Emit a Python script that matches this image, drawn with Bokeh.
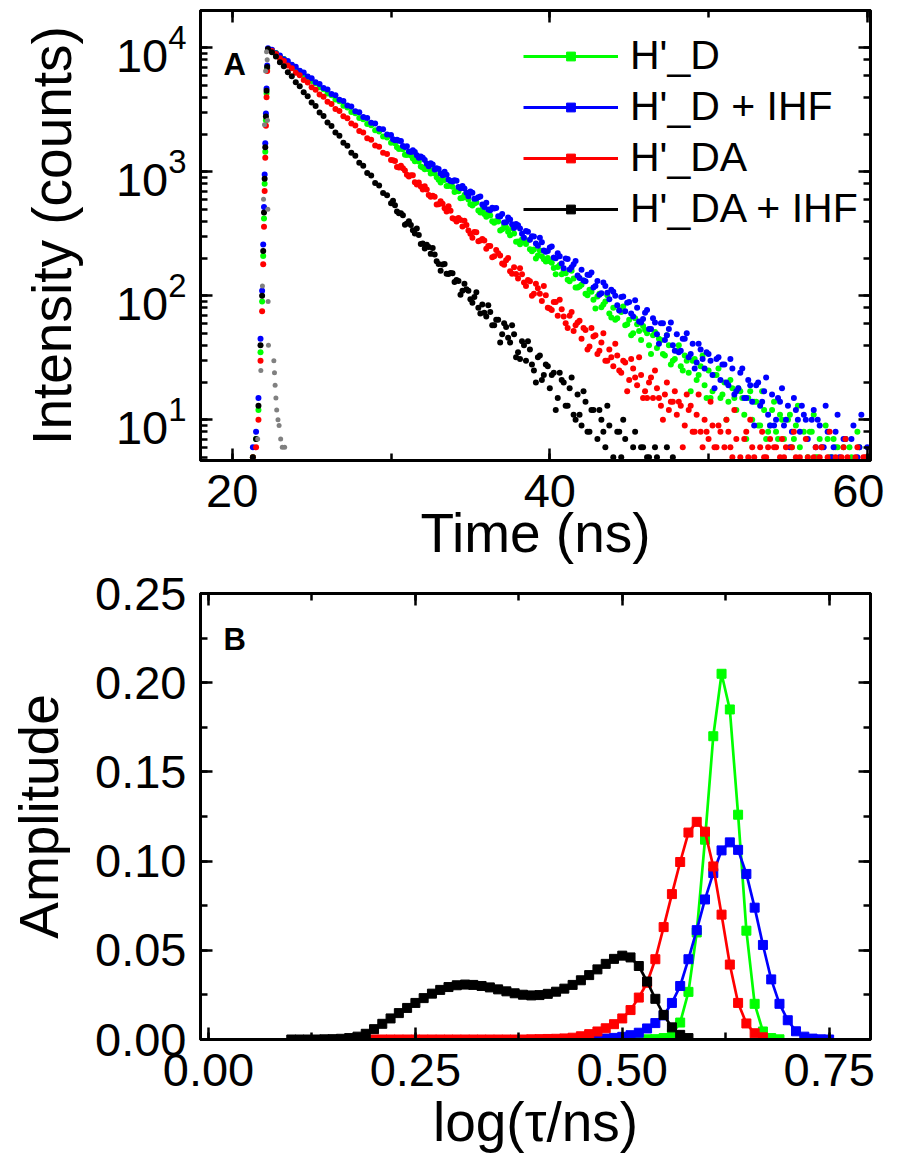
from bokeh.plotting import figure
from bokeh.models import (Range1d, LinearAxis, LogAxis, SingleIntervalTicker, LogTicker,
                          NumeralTickFormatter, CustomJSTickFormatter, Legend, LegendItem, Label)
from bokeh.layouts import column
from bokeh.embed import file_html
from bokeh.resources import INLINE

FONT = "Liberation Sans"

# ---------------- Panel A data (TCSPC decays) ----------------
series_names = ["H'_D", "H'_D + IHF", "H'_DA", "H'_DA + IHF"]
series_colors = ["#00ff00", "#0000ff", "#ff0000", "#000000"]

rise_time = [21.3, 21.5, 21.65, 21.78, 21.88, 21.95, 22.0, 22.04, 22.08, 22.12, 22.16, 22.2, 22.25]
rise_green = [5, 7, 12, 35, 90, 210, 420, 800, 1450, 2600, 4300, 6800, 9700]
rise_blue = [6, 8, 15, 45, 110, 260, 520, 950, 1700, 2950, 4700, 7200, 9900]
rise_red = [5, 6, 10, 30, 75, 180, 360, 700, 1300, 2350, 4000, 6500, 9600]
rise_black = [5, 7, 13, 40, 100, 230, 470, 880, 1580, 2800, 4500, 7000, 9800]

decay_time = [
    22.5, 22.75, 23.0, 23.25, 23.5, 23.75, 24.0, 24.25,
    24.5, 24.75, 25.0, 25.25, 25.5, 25.75, 26.0, 26.25,
    26.5, 26.75, 27.0, 27.25, 27.5, 27.75, 28.0, 28.25,
    28.5, 28.75, 29.0, 29.25, 29.5, 29.75, 30.0, 30.25,
    30.5, 30.75, 31.0, 31.25, 31.5, 31.75, 32.0, 32.25,
    32.5, 32.75, 33.0, 33.25, 33.5, 33.75, 34.0, 34.25,
    34.5, 34.75, 35.0, 35.25, 35.5, 35.75, 36.0, 36.25,
    36.5, 36.75, 37.0, 37.25, 37.5, 37.75, 38.0, 38.25,
    38.5, 38.75, 39.0, 39.25, 39.5, 39.75, 40.0, 40.25,
    40.5, 40.75, 41.0, 41.25, 41.5, 41.75, 42.0, 42.25,
    42.5, 42.75, 43.0, 43.25, 43.5, 43.75, 44.0, 44.25,
    44.5, 44.75, 45.0, 45.25, 45.5, 45.75, 46.0, 46.25,
    46.5, 46.75, 47.0, 47.25, 47.5, 47.75, 48.0, 48.25,
    48.5, 48.75, 49.0, 49.25, 49.5, 49.75, 50.0, 50.25,
    50.5, 50.75, 51.0, 51.25, 51.5, 51.75, 52.0, 52.25,
    52.5, 52.75, 53.0, 53.25, 53.5, 53.75, 54.0, 54.25,
    54.5, 54.75, 55.0, 55.25, 55.5, 55.75, 56.0, 56.25,
    56.5, 56.75, 57.0, 57.25, 57.5, 57.75, 58.0, 58.25,
    58.5, 58.75, 59.0, 59.25, 59.5, 59.75, 60.0]

decay_green = [
    9512, 9071, 8466, 8120, 7581, 7262, 6749, 6481,
    6032, 5803, 5391, 5170, 4812, 4633, 4290, 4139,
    3826, 3702, 3419, 3301, 3044, 2967, 2716, 2651,
    2428, 2371, 2160, 2118, 1929, 1893, 1718, 1697,
    1531, 1519, 1366, 1357, 1218, 1214, 1085, 1087,
    969, 972, 864, 869, 770, 778, 688, 696,
    614, 623, 547, 556, 488, 497, 435, 444,
    388, 397, 345, 355, 308, 318, 274, 284,
    262, 238, 236, 211, 209, 189, 190, 168,
    171, 149, 152, 131, 138, 117, 123, 104,
    112, 93, 99, 81, 90, 72, 80, 66,
    74, 58, 64, 50, 59, 44, 53, 40,
    48, 38, 44, 33, 40, 30, 36, 27,
    33, 24, 30, 21, 27, 19, 25, 17,
    23, 15, 20, 14, 18, 12, 17, 11,
    15, 10, 14, 9, 12, 8, 12, 8,
    11, 7, 10, 6, 9, 6, 8, 5,
    8, 5, 7, 4, 7, 5, 6, 4,
    6, 4, 5, 3, 6, 4, 5]

decay_blue = [
    9650, 9031, 8688, 8105, 7826, 7290, 7031, 6547,
    6318, 5869, 5689, 5271, 5120, 4741, 4610, 4252,
    4146, 3821, 3731, 3434, 3360, 3081, 3024, 2766,
    2722, 2484, 2449, 2229, 2202, 2002, 1981, 1796,
    1784, 1613, 1605, 1446, 1445, 1297, 1301, 1164,
    1171, 1045, 1054, 938, 949, 842, 855, 755,
    769, 678, 693, 608, 624, 545, 562, 489,
    506, 438, 456, 393, 412, 352, 371, 316,
    334, 283, 301, 254, 271, 227, 245, 204,
    221, 182, 200, 163, 180, 146, 162, 131,
    147, 117, 132, 105, 120, 94, 108, 84,
    98, 75, 89, 68, 80, 61, 73, 54,
    66, 49, 60, 44, 54, 40, 49, 36,
    45, 32, 41, 29, 37, 26, 34, 23,
    31, 21, 28, 19, 26, 17, 24, 15,
    21, 14, 19, 13, 17, 11, 16, 10,
    14, 9, 13, 8, 12, 8, 11, 7,
    10, 6, 9, 6, 8, 5, 8, 5,
    7, 4, 7, 4, 6, 4, 6]

decay_red = [
    9410, 8931, 8230, 7818, 7192, 6850, 6290, 5996,
    5497, 5250, 4806, 4597, 4201, 4026, 3672, 3527,
    3209, 3088, 2803, 2703, 2449, 2367, 2138, 2073,
    1867, 1815, 1631, 1590, 1424, 1393, 1243, 1220,
    1085, 1069, 946, 937, 826, 821, 721, 720,
    629, 631, 548, 553, 478, 485, 416, 425,
    363, 373, 316, 327, 276, 287, 240, 252,
    209, 221, 182, 194, 158, 170, 138, 149,
    120, 131, 104, 115, 91, 101, 79, 89,
    69, 78, 60, 69, 52, 61, 45, 53,
    39, 47, 34, 42, 30, 37, 27, 33,
    24, 29, 21, 26, 19, 23, 17, 20,
    15, 18, 13, 16, 12, 14, 11, 13,
    9, 12, 8, 11, 8, 10, 7, 9,
    6, 8, 6, 8, 5, 7, 5, 7,
    5, 6, 4, 6, 5, 6, 4, 6,
    5, 5, 4, 6, 5, 5, 3, 5,
    4, 6, 5, 4, 5, 3, 5, 4,
    6, 5, 3, 5, 4, 5, 5]

decay_black = [
    9220, 8530, 7651, 7090, 6349, 5901, 5270, 4902,
    4375, 4075, 3628, 3389, 3011, 2818, 2497, 2345,
    2071, 1950, 1718, 1621, 1425, 1348, 1182, 1122,
    980, 933, 813, 777, 674, 646, 559, 537,
    464, 447, 384, 372, 318, 310, 264, 258,
    218, 215, 181, 179, 151, 153, 129, 132,
    110, 113, 94, 98, 80, 85, 68, 74,
    58, 64, 49, 56, 42, 49, 35, 43,
    30, 37, 25, 32, 21, 28, 18, 24,
    15, 21, 13, 18, 11, 16, 9, 14,
    8, 12, 7, 10, 6, 9, 5, 8,
    5, 7, 4, 6, 3, 6, 3, 5,
    2, 5, 2, 4, 2, 5, 1]

# interleaved channels (half-way between the ones above) from 30 ns on
decay_time2 = [
    30.125, 30.375, 30.625, 30.875, 31.125, 31.375, 31.625, 31.875,
    32.125, 32.375, 32.625, 32.875, 33.125, 33.375, 33.625, 33.875,
    34.125, 34.375, 34.625, 34.875, 35.125, 35.375, 35.625, 35.875,
    36.125, 36.375, 36.625, 36.875, 37.125, 37.375, 37.625, 37.875,
    38.125, 38.375, 38.625, 38.875, 39.125, 39.375, 39.625, 39.875,
    40.125, 40.375, 40.625, 40.875, 41.125, 41.375, 41.625, 41.875,
    42.125, 42.375, 42.625, 42.875, 43.125, 43.375, 43.625, 43.875,
    44.125, 44.375, 44.625, 44.875, 45.125, 45.375, 45.625, 45.875,
    46.125, 46.375, 46.625, 46.875, 47.125, 47.375, 47.625, 47.875,
    48.125, 48.375, 48.625, 48.875, 49.125, 49.375, 49.625, 49.875,
    50.125, 50.375, 50.625, 50.875, 51.125, 51.375, 51.625, 51.875,
    52.125, 52.375, 52.625, 52.875, 53.125, 53.375, 53.625, 53.875,
    54.125, 54.375, 54.625, 54.875, 55.125, 55.375, 55.625, 55.875,
    56.125, 56.375, 56.625, 56.875, 57.125, 57.375, 57.625, 57.875,
    58.125, 58.375, 58.625, 58.875, 59.125, 59.375, 59.625, 59.875]

decay_green2 = [
    1775, 1579, 1542, 1371, 1405, 1278, 1288, 1103,
    1048, 1050, 1028, 903, 822, 858, 769, 757,
    701, 611, 649, 599, 534, 567, 470, 458,
    475, 399, 402, 336, 373, 328, 350, 273,
    261, 277, 280, 229, 200, 232, 197, 202,
    185, 149, 177, 160, 135, 159, 117, 119,
    133, 101, 108, 79, 104, 85, 101, 67,
    64, 77, 82, 59, 48, 66, 52, 57,
    50, 34, 51, 45, 34, 48, 28, 31,
    40, 25, 30, 17, 31, 23, 33, 15,
    15, 23, 26, 16, 10, 21, 15, 18,
    15, 7, 17, 14, 9, 17, 7, 9,
    14, 7, 10, 3, 11, 7, 13, 3,
    4, 8, 11, 5, 2, 9, 5, 7,
    6, 1, 7, 6, 3, 8, 2, 3]

decay_blue2 = [
    1834, 1817, 1769, 1587, 1462, 1494, 1363, 1331,
    1243, 1110, 1147, 1069, 969, 1003, 862, 836,
    849, 737, 734, 636, 678, 609, 632, 520,
    497, 513, 512, 437, 390, 428, 377, 379,
    349, 294, 329, 302, 264, 294, 232, 230,
    250, 201, 209, 167, 198, 170, 191, 139,
    133, 148, 154, 120, 102, 128, 106, 112,
    100, 76, 99, 88, 72, 92, 62, 65,
    77, 54, 61, 41, 60, 48, 61, 36,
    35, 45, 50, 34, 26, 41, 31, 35,
    30, 18, 32, 28, 20, 31, 16, 18,
    26, 15, 19, 9, 20, 14, 22, 9,
    9, 15, 18, 10, 6, 15, 10, 13,
    10, 4, 12, 10, 6, 13, 4, 6,
    11, 4, 7, 1, 9, 5, 11, 2]

decay_red2 = [
    1242, 1093, 1117, 1026, 917, 938, 792, 760,
    764, 651, 641, 544, 578, 509, 527, 422,
    397, 409, 404, 336, 294, 325, 280, 279,
    252, 205, 234, 211, 178, 202, 151, 150,
    167, 128, 134, 100, 125, 104, 120, 80,
    77, 89, 93, 68, 55, 74, 58, 63,
    55, 37, 55, 48, 36, 50, 30, 32,
    41, 25, 30, 17, 31, 22, 32, 15,
    15, 22, 25, 15, 10, 20, 14, 17,
    14, 6, 16, 13, 8, 16, 6, 8,
    14, 6, 9, 2, 10, 6, 12, 3,
    3, 8, 10, 5, 2, 8, 5, 7,
    6, 1, 7, 6, 3, 8, 2, 3,
    7, 2, 5, 1, 6, 3, 8, 1,
    1, 5, 7, 3, 1, 6, 3, 5]

decay_black2 = [
    584, 478, 463, 375, 399, 338, 349, 262,
    241, 248, 243, 190, 159, 181, 150, 152,
    134, 102, 125, 110, 88, 107, 72, 73,
    84, 58, 64, 42, 60, 46, 58, 32,
    31, 40, 43, 28, 20, 33, 23, 27,
    23, 12, 24, 20, 13, 22, 10, 11,
    17, 8, 12, 4, 12, 8, 13, 4,
    4, 8, 10, 4, 2, 8, 4, 6,
    5, 1, 6, 4, 2, 6, 1, 2]

irf_time = [21.6, 21.8, 21.9, 21.97, 22.03, 22.1, 22.16, 22.2, 22.22, 22.24, 22.26, 22.28,
            22.62, 22.66, 22.7, 22.75, 22.8, 22.88, 22.95, 23.05, 23.15, 23.3]
irf_counts = [7, 25, 120, 600, 2400, 6500, 9300, 8000, 2600, 500, 90, 40,
              30, 24, 19, 15, 12, 10, 9, 7, 6, 6]

# ---------------- Panel B data (lifetime distributions) ----------------
tau_red = [0.19, 0.20, 0.21, 0.22, 0.23, 0.24, 0.25, 0.26, 0.27, 0.28, 0.29, 0.30, 0.31, 0.32,
           0.33, 0.34, 0.35, 0.36, 0.37, 0.38, 0.39, 0.40, 0.41, 0.42, 0.43, 0.44, 0.45, 0.46,
           0.47, 0.48, 0.49, 0.50, 0.51, 0.52, 0.53, 0.54, 0.55, 0.56, 0.57, 0.58, 0.59, 0.60,
           0.61, 0.62, 0.63, 0.64, 0.65, 0.66, 0.67]
amp_red = [0.0, 0.0, 0.0, 0.0, 0.0, 0.0, 0.0, 0.0, 0.0, 0.0, 0.0, 0.0, 0.0, 0.0,
           0.0, 0.0, 0.0, 0.0, 0.0, 0.0, 0.0001, 0.0002, 0.0003, 0.0004, 0.0006, 0.0010, 0.0018, 0.0030,
           0.0045, 0.0063, 0.0086, 0.0118, 0.0165, 0.0235, 0.0318, 0.0450, 0.0630, 0.0815, 0.0995, 0.1160, 0.1220, 0.1165,
           0.0970, 0.0700, 0.0420, 0.0205, 0.0090, 0.0035, 0.0012]

tau_black = [0.10, 0.11, 0.12, 0.13, 0.14, 0.15, 0.16, 0.17, 0.18, 0.19, 0.20, 0.21, 0.22, 0.23,
             0.24, 0.25, 0.26, 0.27, 0.28, 0.29, 0.30, 0.31, 0.32, 0.33, 0.34, 0.35, 0.36, 0.37,
             0.38, 0.39, 0.40, 0.41, 0.42, 0.43, 0.44, 0.45, 0.46, 0.47, 0.48, 0.49, 0.50, 0.51,
             0.52, 0.53, 0.54, 0.55, 0.56, 0.57, 0.58]
amp_black = [0.0, 0.0, 0.0, 0.0, 0.0001, 0.0002, 0.0004, 0.0008, 0.0016, 0.0032, 0.0058, 0.0088, 0.0118, 0.0148,
             0.0177, 0.0205, 0.0232, 0.0257, 0.0278, 0.0294, 0.0304, 0.0308, 0.0306, 0.0300, 0.0292, 0.0281, 0.0270, 0.0259,
             0.0251, 0.0247, 0.0249, 0.0256, 0.0268, 0.0285, 0.0306, 0.0332, 0.0361, 0.0393, 0.0424, 0.0452, 0.0470, 0.0460,
             0.0412, 0.0325, 0.0228, 0.0138, 0.0068, 0.0026, 0.0008]

tau_green = [0.51, 0.52, 0.53, 0.54, 0.55, 0.56, 0.57, 0.58, 0.59, 0.60, 0.61, 0.62, 0.63, 0.64,
             0.65, 0.66, 0.67, 0.68, 0.69]
amp_green = [0.0, 0.0, 0.0001, 0.0002, 0.0008, 0.0030, 0.0095, 0.0267, 0.0600, 0.1120, 0.1700, 0.2050, 0.1850, 0.1260,
             0.0610, 0.0200, 0.0045, 0.0008, 0.0001]

tau_blue = [0.46, 0.47, 0.48, 0.49, 0.50, 0.51, 0.52, 0.53, 0.54, 0.55, 0.56, 0.57, 0.58, 0.59,
            0.60, 0.61, 0.62, 0.63, 0.64, 0.65, 0.66, 0.67, 0.68, 0.69, 0.70, 0.71, 0.72, 0.73,
            0.74, 0.75]
amp_blue = [0.0, 0.0002, 0.0005, 0.0009, 0.0015, 0.0024, 0.0038, 0.0062, 0.0092, 0.0135, 0.0205, 0.0300, 0.0450, 0.0613,
            0.0785, 0.0933, 0.1060, 0.1105, 0.1063, 0.0928, 0.0739, 0.0530, 0.0337, 0.0200, 0.0108, 0.0046, 0.0016, 0.0005,
            0.0001, 0.0]


def style_axis(ax, show_labels, label_standoff=5):
    ax.axis_line_width = 3
    ax.axis_line_color = "black"
    ax.major_tick_in = 12
    ax.major_tick_out = 0
    ax.minor_tick_in = 7
    ax.minor_tick_out = 0
    ax.major_tick_line_width = 2.5
    ax.minor_tick_line_width = 2.5
    ax.major_tick_line_color = "black"
    ax.minor_tick_line_color = "black"
    if show_labels:
        ax.major_label_text_font = FONT
        ax.major_label_text_font_size = "47px"
        ax.major_label_text_color = "black"
        ax.axis_label_text_font = FONT
        ax.axis_label_text_font_size = "55px"
        ax.axis_label_text_font_style = "normal"
        ax.axis_label_text_color = "black"
        ax.axis_label_standoff = label_standoff
    else:
        ax.formatter = CustomJSTickFormatter(code="return ''")
        ax.major_label_text_font_size = "0px"
        ax.major_label_standoff = 0


# ---------------- Panel A ----------------
p1 = figure(frame_width=670, frame_height=450, x_range=Range1d(18, 60.2), y_range=Range1d(4.7, 20000),
            y_axis_type="log", output_backend="svg", toolbar_location=None,
            min_border_left=200, min_border_right=14, min_border_top=10, min_border_bottom=100)
p1.xgrid.visible = False
p1.ygrid.visible = False
p1.outline_line_color = "black"
p1.outline_line_width = 3

p1.xaxis.ticker = SingleIntervalTicker(interval=20, num_minor_ticks=2)
p1.xaxis.axis_label = "Time (ns)"
p1.yaxis.axis_label = "Intensity (counts)"
style_axis(p1.xaxis[0], True, -8)
style_axis(p1.yaxis[0], True, 30)
p1.xaxis.major_label_standoff = 14
p1.yaxis.major_label_standoff = 14

ax = LinearAxis(ticker=SingleIntervalTicker(interval=20, num_minor_ticks=2))
style_axis(ax, False)
p1.add_layout(ax, "above")
ax = LogAxis(ticker=LogTicker())
style_axis(ax, False)
p1.add_layout(ax, "right")

decays = [(rise_green, decay_green, decay_green2), (rise_blue, decay_blue, decay_blue2),
          (rise_red, decay_red, decay_red2), (rise_black, decay_black, decay_black2)]
for (rv, dv, dv2), col in zip(decays, series_colors):
    xs = rise_time + decay_time[:len(dv)] + decay_time2[:len(dv2)]
    ys = rv + dv + dv2
    p1.scatter(xs, ys, marker="circle", size=6, fill_color=col, line_color=None)
p1.scatter(irf_time, irf_counts, marker="circle", size=5, fill_color="#808080", line_color=None)

items = []
for name, col in zip(series_names, series_colors):
    lr = p1.line([float("nan")], [float("nan")], line_color=col, line_width=3)
    sr = p1.scatter([float("nan")], [float("nan")], marker="square", size=8, fill_color=col, line_color=col)
    items.append(LegendItem(label=name, renderers=[lr, sr]))
legend = Legend(items=items, location=(323, 228), orientation="vertical",
                border_line_color=None, background_fill_alpha=0.0,
                glyph_width=95, glyph_height=22, label_height=45, spacing=4, padding=0, margin=0,
                label_standoff=12, label_text_font=FONT, label_text_font_size="41px",
                label_text_color="black")
p1.add_layout(legend)

p1.add_layout(Label(x=19.45, y=7300, text="A", text_font=FONT, text_font_style="bold",
                    text_font_size="31px", text_baseline="alphabetic", text_color="black"))

# ---------------- Panel B ----------------
p2 = figure(frame_width=670, frame_height=446, x_range=Range1d(-0.0097, 0.8), y_range=Range1d(0, 0.25),
            output_backend="svg", toolbar_location=None,
            min_border_left=200, min_border_right=14, min_border_top=27, min_border_bottom=110)
p2.xgrid.visible = False
p2.ygrid.visible = False
p2.outline_line_color = "black"
p2.outline_line_width = 3

p2.xaxis.ticker = SingleIntervalTicker(interval=0.25, num_minor_ticks=2)
p2.yaxis.ticker = SingleIntervalTicker(interval=0.05, num_minor_ticks=2)
p2.xaxis.formatter = NumeralTickFormatter(format="0.00")
p2.yaxis.formatter = NumeralTickFormatter(format="0.00")
p2.xaxis.axis_label = "log(\u03c4/ns)"
p2.yaxis.axis_label = "Amplitude"
style_axis(p2.xaxis[0], True, 2)
style_axis(p2.yaxis[0], True, 22)
p2.xaxis.major_label_standoff = 14
p2.yaxis.major_label_standoff = 14

ax = LinearAxis(ticker=SingleIntervalTicker(interval=0.25, num_minor_ticks=2))
style_axis(ax, False)
p2.add_layout(ax, "above")
ax = LinearAxis(ticker=SingleIntervalTicker(interval=0.05, num_minor_ticks=2))
style_axis(ax, False)
p2.add_layout(ax, "right")

dists = [(tau_green, amp_green, series_colors[0]), (tau_blue, amp_blue, series_colors[1]),
         (tau_red, amp_red, series_colors[2]), (tau_black, amp_black, series_colors[3])]
for xs, ys, col in dists:
    p2.line(xs, ys, line_color=col, line_width=2.7)
    p2.scatter(xs, ys, marker="square", size=9, fill_color=col, line_color=col)

p2.add_layout(Label(x=0.018, y=0.224, text="B", text_font=FONT, text_font_style="bold",
                    text_font_size="31px", text_baseline="alphabetic", text_color="black"))

layout = column(p1, p2, spacing=0)
open("out.html", "w").write(file_html(layout, INLINE))
